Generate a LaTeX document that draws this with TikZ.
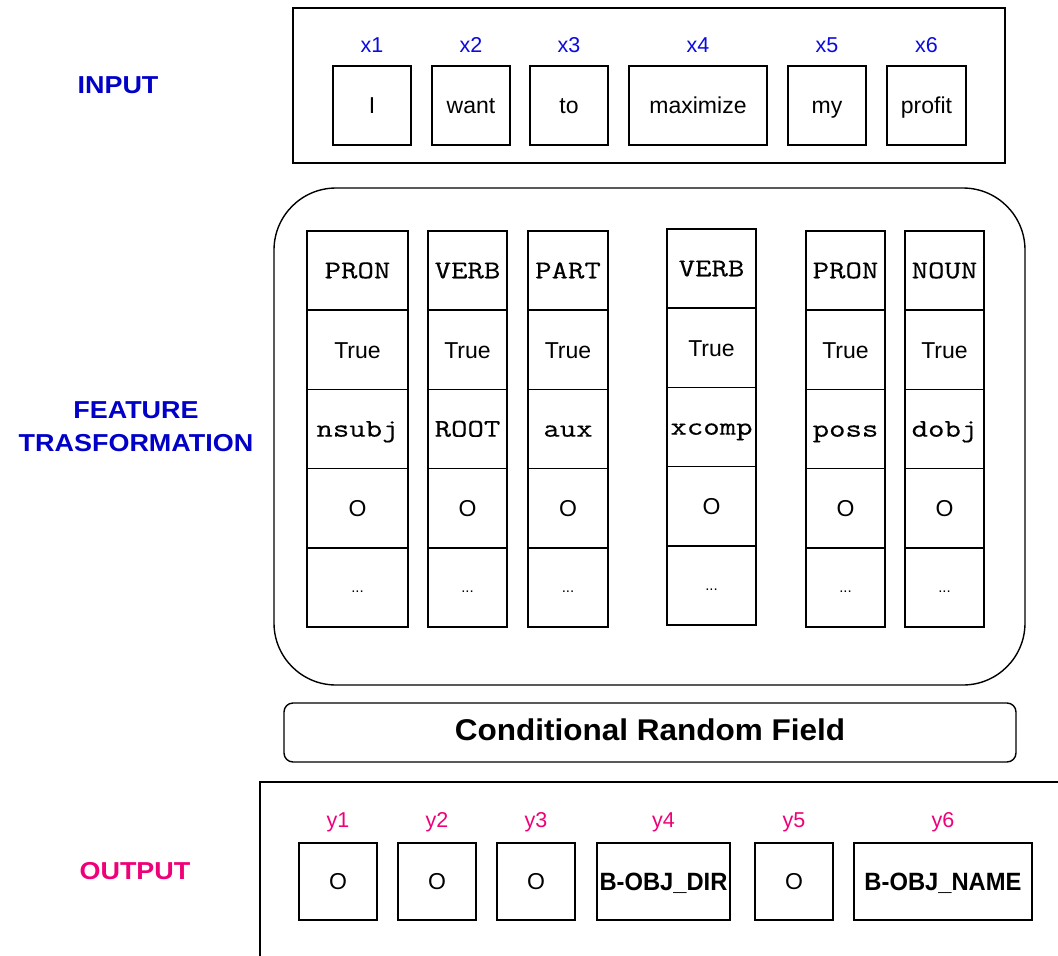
\documentclass[tikz,border=0pt]{standalone}
\usepackage{fontspec}
\usetikzlibrary{calc}
\setmainfont{Liberation Sans}
\newfontfamily\widebold{Liberation Sans}[FakeStretch=1.1]
\newfontfamily\crffont{Liberation Sans}[FakeStretch=1.05]
\newfontfamily\tagfont{Liberation Sans}[FakeStretch=0.95]
\newfontfamily\cour{Latin Modern Mono}[FakeStretch=1.25, FakeBold=0.4]
\begin{document}
\begin{tikzpicture}[x=1pt,y=-1pt,
  every node/.style={inner sep=0pt, outer sep=0pt},
  frame/.style={draw=black, line width=1.4pt},
  box/.style={draw=black, line width=1.6pt, anchor=north west},
  cell/.style={draw=black, line width=1.5pt, anchor=north west},
  sectlabel/.style={font=\widebold\bfseries\fontsize{24.5}{33}\selectfont, align=center},
  inlabel/.style={text height=15.4pt, text depth=0pt, text={rgb,255:red,10;green,10;blue,225}, font=\fontsize{21.5}{24}\selectfont},
  outlabel/.style={text height=15.4pt, text depth=0pt, text={rgb,255:red,240;green,0;blue,120}, font=\fontsize{21.5}{24}\selectfont},
  word/.style={text height=16.5pt, text depth=0pt, font=\fontsize{23}{26}\selectfont},
  mono/.style={text height=15.3pt, text depth=0pt, font=\cour\fontsize{25.5}{30}\selectfont},
  tag/.style={text height=17.9pt, text depth=0pt, font=\tagfont\bfseries\fontsize{25}{28}\selectfont},
  dots/.style={text height=10.8pt, text depth=0pt, font=\fontsize{15}{18}\selectfont}
]
\useasboundingbox[fill=white] (0,0) rectangle (1058,956);

% ---- section titles
\node[sectlabel, text={rgb,255:red,0;green,0;blue,200}] (tin) at (118,85) {INPUT};
\node[sectlabel, text={rgb,255:red,0;green,0;blue,200}] (tft) at (136,427) {FEATURE\\TRASFORMATION};
\node[sectlabel, text={rgb,255:red,240;green,0;blue,120}] (tout) at (135,871) {OUTPUT};

% ---- input sentence
\draw[frame] (293,8) rectangle (1005,163);
\foreach \n/\l/\r/\w in {1/333/411/I, 2/432/510/want, 3/530/608/to, 4/629/767/maximize, 5/788/866/my, 6/887/966/profit}{
  \node[box, minimum width=\r-\l, minimum height=79] (w\n) at (\l,66) {};
  \node[word] at (w\n.center) {\w};
  \node[inlabel] (x\n) at ($(\l,45)!0.5!(\r,45)$) {x\n};
}

% ---- feature columns
\draw[frame, rounded corners=62pt] (274,188) rectangle (1025,685);
\foreach \c/\l/\r/\t/\pos/\dep in {1/307/408/231/PRON/nsubj, 2/428/507/231/VERB/ROOT, 3/528/608/231/PART/aux,
                                   4/667/756/229/VERB/xcomp, 5/806/885/231/PRON/poss, 6/905/984/231/NOUN/dobj}{
  \node[cell, minimum width=\r-\l, minimum height=79.2] (c\c a) at (\l,\t) {};
  \node[cell, minimum width=\r-\l, minimum height=79.2] (c\c b) at (\l,\t+79.2) {};
  \node[cell, minimum width=\r-\l, minimum height=79.2] (c\c c) at (\l,\t+158.4) {};
  \node[cell, minimum width=\r-\l, minimum height=79.2] (c\c d) at (\l,\t+237.6) {};
  \node[cell, minimum width=\r-\l, minimum height=79.2] (c\c e) at (\l,\t+316.8) {};
  \node[mono] at (c\c a.center) {\pos};
  \node[word] at (c\c b.center) {True};
  \node[mono] at (c\c c.center) {\dep};
  \node[word] at (c\c d.center) {O};
  \node[dots] at (c\c e.center) {...};
}

% ---- CRF layer
\draw[frame, rounded corners=9pt] (284,703) rectangle (1016,762);
\node[text height=21.5pt, text depth=0pt, font=\crffont\bfseries\fontsize{30}{34}\selectfont] (crf) at (650,730) {Conditional Random Field};

% ---- output labels
\draw[frame] (260,956) -- (260,782) -- (1058,782);
\foreach \n/\l/\r/\w/\s in {1/299/377/O/word, 2/398/476/O/word, 3/497/575/O/word, 4/597/730/B-OBJ\_DIR/tag, 5/755/833/O/word, 6/854/1032/B-OBJ\_NAME/tag}{
  \node[box, minimum width=\r-\l, minimum height=77] (o\n) at (\l,843) {};
  \node[\s] at (o\n.center) {\w};
  \node[outlabel] (y\n) at ($(\l,820)!0.5!(\r,820)$) {y\n};
}
\end{tikzpicture}
\end{document}
